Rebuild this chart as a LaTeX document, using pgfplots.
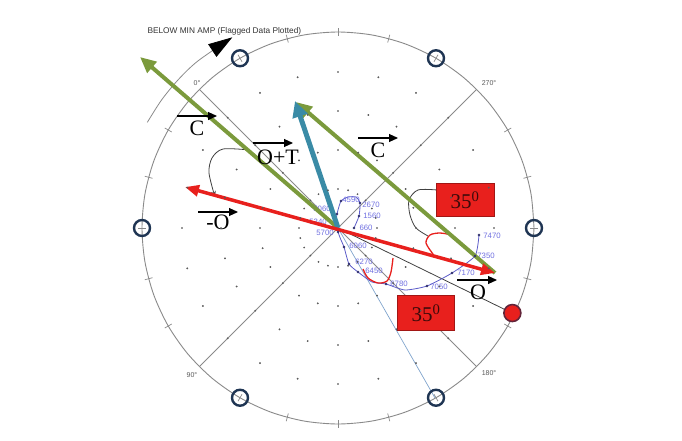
\documentclass[border=0pt]{standalone}
\usepackage{fontspec}
\setmainfont{Liberation Sans}
\newfontfamily\serif{Liberation Serif}
\usepackage{pgfplots}
\pgfplotsset{compat=1.18}
\usetikzlibrary{arrows.meta}

\definecolor{ringgray}{HTML}{8A8A8A}
\definecolor{dotgray}{HTML}{5A5A5A}
\definecolor{navyc}{HTML}{1F3553}
\definecolor{olive}{HTML}{7B9A3C}
\definecolor{tealc}{HTML}{3A8BA6}
\definecolor{vred}{HTML}{E8201D}
\definecolor{trace}{HTML}{5B5BC8}
\definecolor{lab}{HTML}{6F6FE0}
\definecolor{thinblue}{HTML}{7FA3CC}
\definecolor{boxtext}{HTML}{3B0A0A}

\begin{document}
\begin{tikzpicture}
\useasboundingbox (0,0) rectangle (682pt,440pt);
\begin{axis}[
  at={(0,0)}, anchor=south west,
  scale only axis, width=682pt, height=440pt,
  xmin=-338, xmax=344, ymin=-212, ymax=228,
  hide axis, clip=false,
]
% polar grid dots
\pgfplotsinvokeforeach{39,78,117,156}{
\addplot[only marks, data cs=polar, mark=*, mark size=0.7pt, color=dotgray]
  coordinates {(0,#1)(15,#1)(30,#1)(45,#1)(60,#1)(75,#1)(90,#1)(105,#1)(120,#1)(135,#1)(150,#1)(165,#1)
  (180,#1)(195,#1)(210,#1)(225,#1)(240,#1)(255,#1)(270,#1)(285,#1)(300,#1)(315,#1)(330,#1)(345,#1)};
}
% outer circle
\addplot[data cs=polar, smooth, color=ringgray, line width=0.9pt] coordinates {
  (0,196)(10,196)(20,196)(30,196)(40,196)(50,196)(60,196)(70,196)(80,196)(90,196)
  (100,196)(110,196)(120,196)(130,196)(140,196)(150,196)(160,196)(170,196)(180,196)
  (190,196)(200,196)(210,196)(220,196)(230,196)(240,196)(250,196)(260,196)(270,196)
  (280,196)(290,196)(300,196)(310,196)(320,196)(330,196)(340,196)(350,196)(360,196)};
% ticks on the circle
\pgfplotsinvokeforeach{0,15,30,60,75,90,105,120,150,165,180,195,210,240,255,270,285,300,330,345}{
\addplot[data cs=polar, color=ringgray, line width=0.7pt] coordinates {(#1,192)(#1,200)};
}
% diagonals
\addplot[data cs=polar, color=ringgray, line width=0.8pt] coordinates {(135,196)(315,196)};
\addplot[data cs=polar, color=ringgray, line width=0.8pt] coordinates {(45,196)(225,196)};
% rotation arc
\addplot[data cs=polar, smooth, color=ringgray, line width=0.8pt,
  -{Triangle[length=24pt,width=15pt,color=black]}]
  coordinates {(151,218)(144,218)(137,218)(130,218)(119,218)};
\node[anchor=west, font=\fontsize{8.3}{10}\selectfont, text=black!80] at (axis cs:-194,197)
  {BELOW MIN AMP (Flagged Data Plotted)};
% degree labels
\node[font=\fontsize{7}{8}\selectfont, text=black!65] at (axis cs:-141,145) {0°};
\node[font=\fontsize{7}{8}\selectfont, text=black!65] at (axis cs:151,145) {270°};
\node[font=\fontsize{7}{8}\selectfont, text=black!65] at (axis cs:-146,-147) {90°};
\node[font=\fontsize{7}{8}\selectfont, text=black!65] at (axis cs:151,-145) {180°};
% balance holes
\addplot[only marks, data cs=polar, mark=o, mark size=8pt,
  mark options={line width=2.4pt, draw=navyc}]
  coordinates {(0,196)(60,196)(120,196)(180,196)(240,196)(300,196)};
% thin reference lines
\addplot[color=thinblue, line width=0.7pt] coordinates {(0,0)(97,-170)};
\addplot[color=black!75, line width=0.8pt] coordinates {(0,0)(174,-85)};
% 1X trace
\addplot[color=trace, line width=0.8pt, smooth, tension=0.35] coordinates {
  (16,0)(21,12)(22,25)(18,31)(10,31)(3,27)(0,18)(-1,14)(-2,6)(0,-4)(3,-12)(6,-19)
  (11,-36)(20,-44)(34,-54)(48,-56)(67,-62)(89,-58)(114,-45)(137,-28)(141,-7)};
\addplot[only marks, mark=*, mark size=1.1pt, color=trace!55!black] coordinates {
  (16,0)(21,12)(22,25)(3,27)(-1,14)(0,-4)(6,-19)(11,-36)(20,-44)(48,-56)(89,-58)(114,-45)(137,-28)(141,-7)};
\begin{scope}[every node/.style={font=\fontsize{7.8}{9}\selectfont, text=lab, inner sep=0pt}]
\node at (axis cs:28,0) {660};
\node at (axis cs:34,12) {1560};
\node at (axis cs:33,23) {2670};
\node at (axis cs:13,28) {4590};
\node at (axis cs:-16,19) {5060};
\node at (axis cs:-20,6) {5340};
\node at (axis cs:-13,-5) {5700};
\node at (axis cs:20,-18) {6060};
\node at (axis cs:26,-34) {6270};
\node at (axis cs:36,-43) {6450};
\node at (axis cs:61,-56) {6780};
\node at (axis cs:101,-59) {7050};
\node at (axis cs:128,-45) {7170};
\node at (axis cs:148,-28) {7350};
\node at (axis cs:154,-8) {7470};
\end{scope}
% angle markings
\addplot[color=vred, line width=1.3pt, smooth] coordinates {(95,-26)(88,-15)(92,-7)(102,-5)(114,-7)};
\addplot[color=vred, line width=1.3pt, smooth] coordinates {(25,-41)(30,-50)(40,-55)(49,-53)(53,-44)(55,-30)};
\addplot[color=black!75, line width=0.8pt, smooth] coordinates {(99,38)(80,38)(71,28)(72,13)(78,0)(90,-8)};
\addplot[color=black!75, line width=0.8pt, smooth, -{Stealth[length=6pt,width=5pt]}]
  coordinates {(-88,78)(-115,79)(-126,70)(-129,55)(-123,31)};
% vectors
\addplot[color=olive, line width=4pt, -{Triangle[length=16pt,width=14pt]}] coordinates {(0,0)(-198,171)};
\addplot[color=olive, line width=4pt, -{Triangle[length=16pt,width=14pt]}] coordinates {(157,-45)(-42,126)};
\addplot[color=tealc, line width=5pt, -{Triangle[length=16pt,width=15pt]}] coordinates {(0,0)(-43,127)};
\addplot[color=vred, line width=3.5pt, {Triangle[length=14pt,width=11pt]}-{Triangle[length=14pt,width=11pt]}]
  coordinates {(-153,41)(157,-45)};
% red dot (O)
\addplot[only marks, data cs=polar, mark=*, mark size=8.5pt,
  mark options={fill=vred, draw=navyc!70!red, line width=1.6pt}] coordinates {(334,194)};
% vector names
\addplot[black, line width=1.1pt, -{Triangle[length=9pt,width=8pt]}] coordinates {(-161,112)(-121,112)};
\addplot[black, line width=1.1pt, -{Triangle[length=9pt,width=8pt]}] coordinates {(-85,85)(-45,85)};
\addplot[black, line width=1.1pt, -{Triangle[length=9pt,width=8pt]}] coordinates {(20,90)(60,90)};
\addplot[black, line width=1.1pt, -{Triangle[length=9pt,width=8pt]}] coordinates {(-140,16)(-100,16)};
\addplot[black, line width=1.1pt, -{Triangle[length=9pt,width=8pt]}] coordinates {(119,-52)(159,-52)};
\begin{scope}[every node/.style={font=\serif\fontsize{22}{24}\selectfont, inner sep=0pt}]
\node at (axis cs:-141,100) {C};
\node at (axis cs:-60,71) {O+T};
\node at (axis cs:40,78) {C};
\node at (axis cs:-120,6) {-O};
\node at (axis cs:140,-64) {O};
\end{scope}
% angle boxes
\node[fill=vred, draw=vred!70!black, line width=0.5pt, minimum width=58pt, minimum height=33pt,
  font=\serif\fontsize{21}{24}\selectfont, text=boxtext] at (axis cs:127,28) {35\textsuperscript{0}};
\node[fill=vred, draw=vred!70!black, line width=0.5pt, minimum width=57pt, minimum height=35pt,
  font=\serif\fontsize{21}{24}\selectfont, text=boxtext] at (axis cs:88,-85) {35\textsuperscript{0}};
\end{axis}
\end{tikzpicture}
\end{document}
